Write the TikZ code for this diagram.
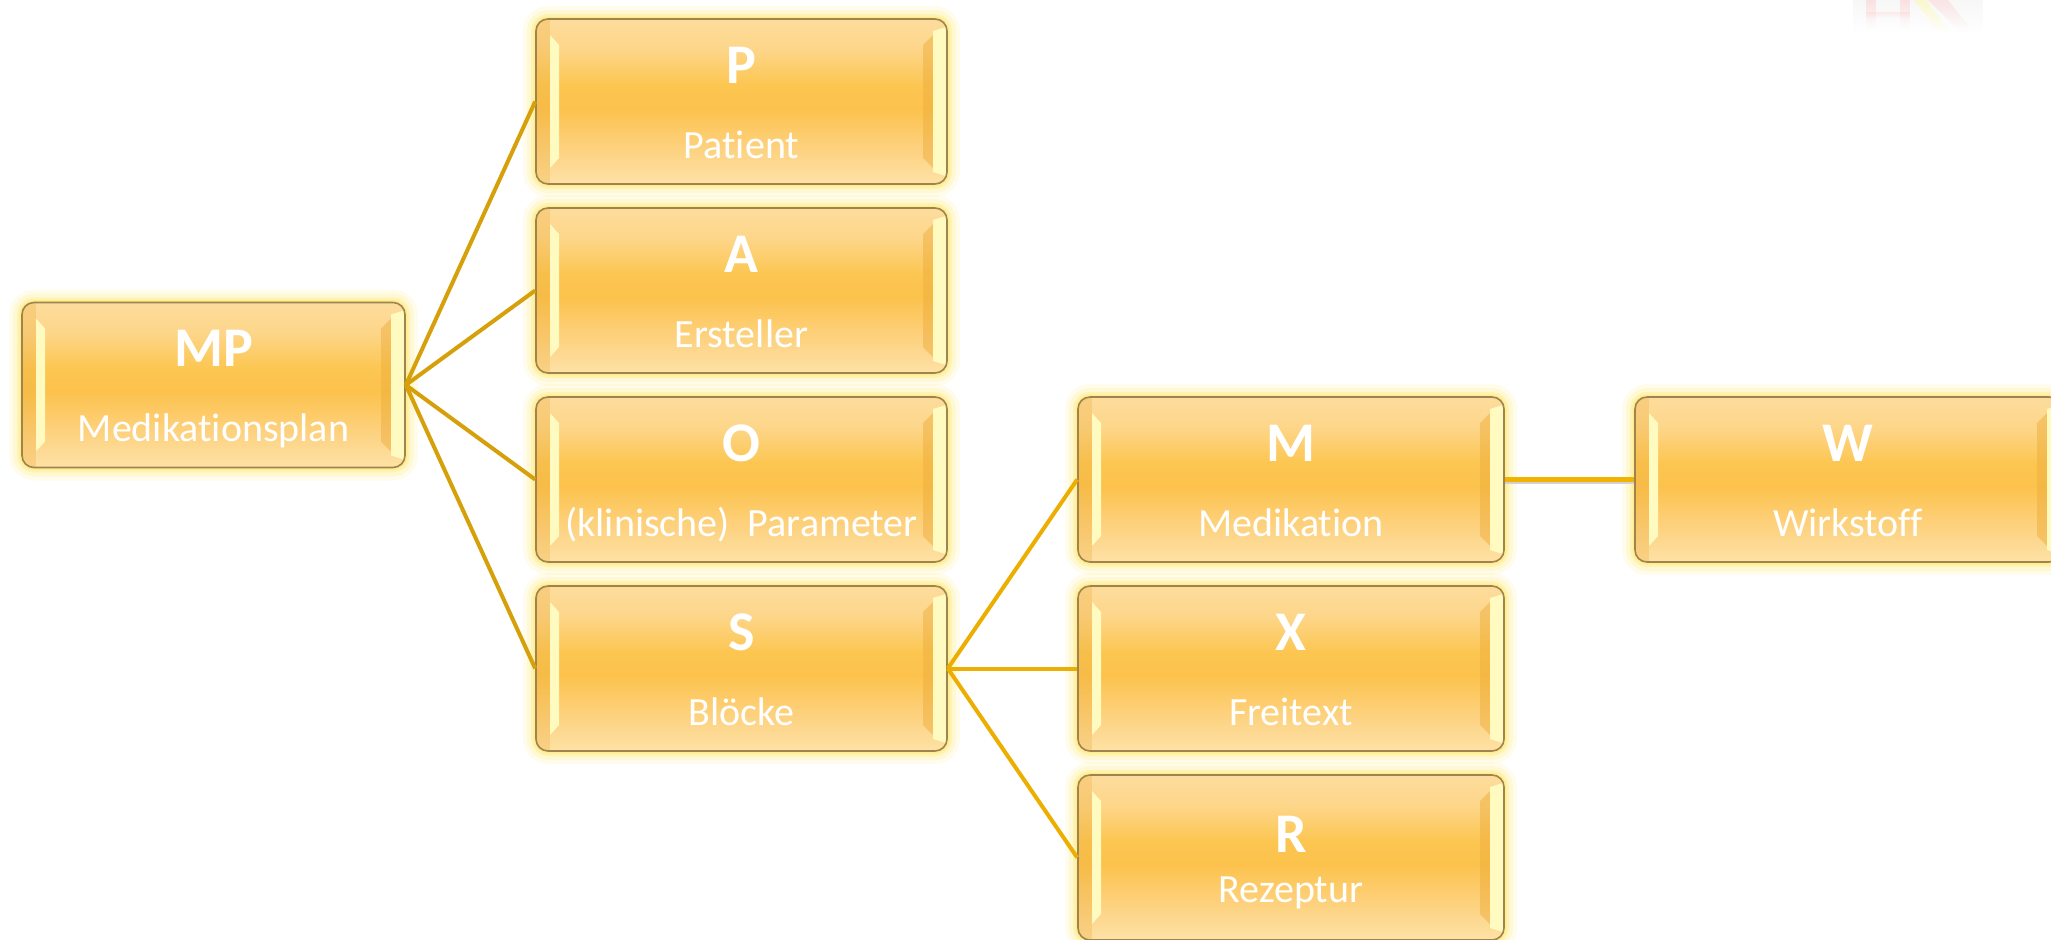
\documentclass[tikz,border=0pt]{standalone}
\usepackage{fontspec}
\setmainfont{Carlito}[Ligatures=NoCommon]
\usetikzlibrary{calc,fadings}

% card colours
\definecolor{cbot}{HTML}{FEE2A5}
\definecolor{cbtwo}{HTML}{FDDA95}
\definecolor{cbthree}{HTML}{FDD07A}
\definecolor{cmid}{HTML}{FCC24C}
\definecolor{cmidtwo}{HTML}{FCC651}
\definecolor{ctsix}{HTML}{FDD68A}
\definecolor{ctop}{HTML}{FDDC9C}
\definecolor{cardedge}{RGB}{160,132,80}
\definecolor{glowc}{RGB}{255,230,100}
\definecolor{bevlite}{RGB}{255,251,192}
\definecolor{bevdark}{RGB}{238,174,62}
\definecolor{linka}{RGB}{214,160,10}
\definecolor{linkb}{RGB}{236,174,0}
\definecolor{linkc}{RGB}{241,178,0}

\pgfdeclareverticalshading{cardfill}{100bp}{%
  color(0bp)=(cbot); color(25bp)=(cbot); color(30bp)=(cbtwo);
  color(37bp)=(cbthree); color(48bp)=(cmid); color(55bp)=(cmidtwo);
  color(66bp)=(ctsix); color(75bp)=(ctop); color(100bp)=(ctop)}

\tikzset{
  card/.style={rectangle, rounded corners=6pt, minimum height=82.5pt,
    inner sep=0pt, draw=cardedge, line width=0.8pt, shading=cardfill,
    preaction={draw=glowc, line width=13pt, draw opacity=0.12},
    preaction={draw=glowc, line width=9pt, draw opacity=0.18},
    preaction={draw=glowc, line width=5pt, draw opacity=0.3},
    preaction={draw=glowc, line width=2.5pt, draw opacity=0.45},
    path picture={
      \begin{scope}[sharp corners]
      \coordinate (bnw) at (path picture bounding box.north west);
      \coordinate (bsw) at (path picture bounding box.south west);
      \coordinate (bne) at (path picture bounding box.north east);
      \coordinate (bse) at (path picture bounding box.south east);
      % outer left face
      \fill[bevdark, opacity=0.3] (bnw) rectangle ($(bsw)+(7pt,0)$);
      % left highlight
      \fill[bevlite] ($(bnw)+(7pt,-8pt)$) -- ($(bnw)+(11.5pt,-13pt)$)
        -- ($(bsw)+(11.5pt,13pt)$) -- ($(bsw)+(7pt,8pt)$) -- cycle;
      % right shaded face
      \fill[bevdark, opacity=0.5] ($(bne)+(-7pt,-8pt)$) -- ($(bne)+(-12pt,-13pt)$)
        -- ($(bse)+(-12pt,13pt)$) -- ($(bse)+(-7pt,8pt)$) -- cycle;
      % right highlight
      \fill[bevlite] ($(bne)+(-7pt,-6pt)$) -- ($(bne)+(-0.6pt,-4pt)$)
        -- ($(bse)+(-0.6pt,4pt)$) -- ($(bse)+(-7pt,6pt)$) -- cycle;
      \end{scope}
    }},
  narrowcard/.style={card, minimum width=191.5pt},
  midcard/.style={card, minimum width=205.5pt},
  widecard/.style={card, minimum width=213pt},
  ttl/.style={anchor=base, text=white, inner sep=0pt,
    font=\fontsize{28}{30}\selectfont\bfseries},
  sub/.style={anchor=base, text=white, inner sep=0pt,
    font=\fontsize{20}{22}\selectfont},
  linkleft/.style={draw=linka, line width=2pt},
  linkright/.style={draw=linkb, line width=2pt},
  linkside/.style={draw=linkc, line width=2.4pt,
    preaction={draw=black!18, line width=2.4pt, transform canvas={yshift=-0.8pt}}},
}

\begin{document}
\begin{tikzpicture}[x=0.5pt,y=-0.5pt]
\useasboundingbox (0,0) rectangle (2051,939);
\clip (0,0) rectangle (2051,939);

% faint emblem in the top right corner
\begin{scope}[opacity=0.4]
  \fill[black!8, path fading=south] (1853,0) rectangle (1983,34);
  \fill[red!25, path fading=south] (1866,0) rectangle (1876,28);
  \fill[red!25, path fading=south] (1900,0) rectangle (1910,28);
  \fill[red!18, path fading=south] (1866,12) rectangle (1910,18);
  \fill[yellow!45, path fading=south] (1914,0) -- (1926,0) -- (1950,32) -- (1938,32) -- cycle;
  \fill[red!22, path fading=south] (1928,0) -- (1948,0) -- (1972,30) -- (1958,30) -- cycle;
\end{scope}

% cards
\node[narrowcard] (MP) at (213.5,385) {};
\node[midcard] (P) at (741.5,101.5) {};
\node[midcard] (A) at (741.5,290.5) {};
\node[midcard] (O) at (741.5,479.5) {};
\node[midcard] (S) at (741.5,668.5) {};
\node[widecard] (M) at (1291,479.5) {};
\node[widecard] (X) at (1291,668.5) {};
\node[widecard] (R) at (1291,857.5) {};
\node[widecard] (W) at (1848,479.5) {};

% card texts
\node[ttl] (MP-t) at ([yshift=9.25pt]MP.center) {MP};
\node[sub] (MP-s) at ([yshift=-28.25pt]MP.center) {Medikationsplan};
\node[ttl] (P-t) at ([yshift=9.25pt]P.center) {P};
\node[sub] (P-s) at ([yshift=-28.25pt]P.center) {Patient};
\node[ttl] (A-t) at ([yshift=9.25pt]A.center) {A};
\node[sub] (A-s) at ([yshift=-28.25pt]A.center) {Ersteller};
\node[ttl] (O-t) at ([yshift=9.25pt]O.center) {O};
\node[sub] (O-s) at ([yshift=-28.25pt]O.center) {(klinische)\ \ Parameter};
\node[ttl] (S-t) at ([yshift=9.25pt]S.center) {S};
\node[sub] (S-s) at ([yshift=-28.25pt]S.center) {Blöcke};
\node[ttl] (M-t) at ([yshift=9.25pt]M.center) {M};
\node[sub] (M-s) at ([yshift=-28.25pt]M.center) {Medikation};
\node[ttl] (X-t) at ([yshift=9.25pt]X.center) {X};
\node[sub] (X-s) at ([yshift=-28.25pt]X.center) {Freitext};
\node[ttl] (R-t) at ([yshift=2.75pt]R.center) {R};
\node[sub] (R-s) at ([yshift=-22.25pt]R.center) {Rezeptur};
\node[ttl] (W-t) at ([yshift=9.25pt]W.center) {W};
\node[sub] (W-s) at ([yshift=-28.25pt]W.center) {Wirkstoff};

% connectors
\draw[linkleft] (MP.east) -- (P.west);
\draw[linkleft] (MP.east) -- (A.west);
\draw[linkleft] (MP.east) -- (O.west);
\draw[linkleft] (MP.east) -- (S.west);
\draw[linkright] (S.east) -- (M.west);
\draw[linkright] (S.east) -- (X.west);
\draw[linkright] (S.east) -- (R.west);
\draw[linkside] (M.east) -- (W.west);
\end{tikzpicture}
\end{document}
